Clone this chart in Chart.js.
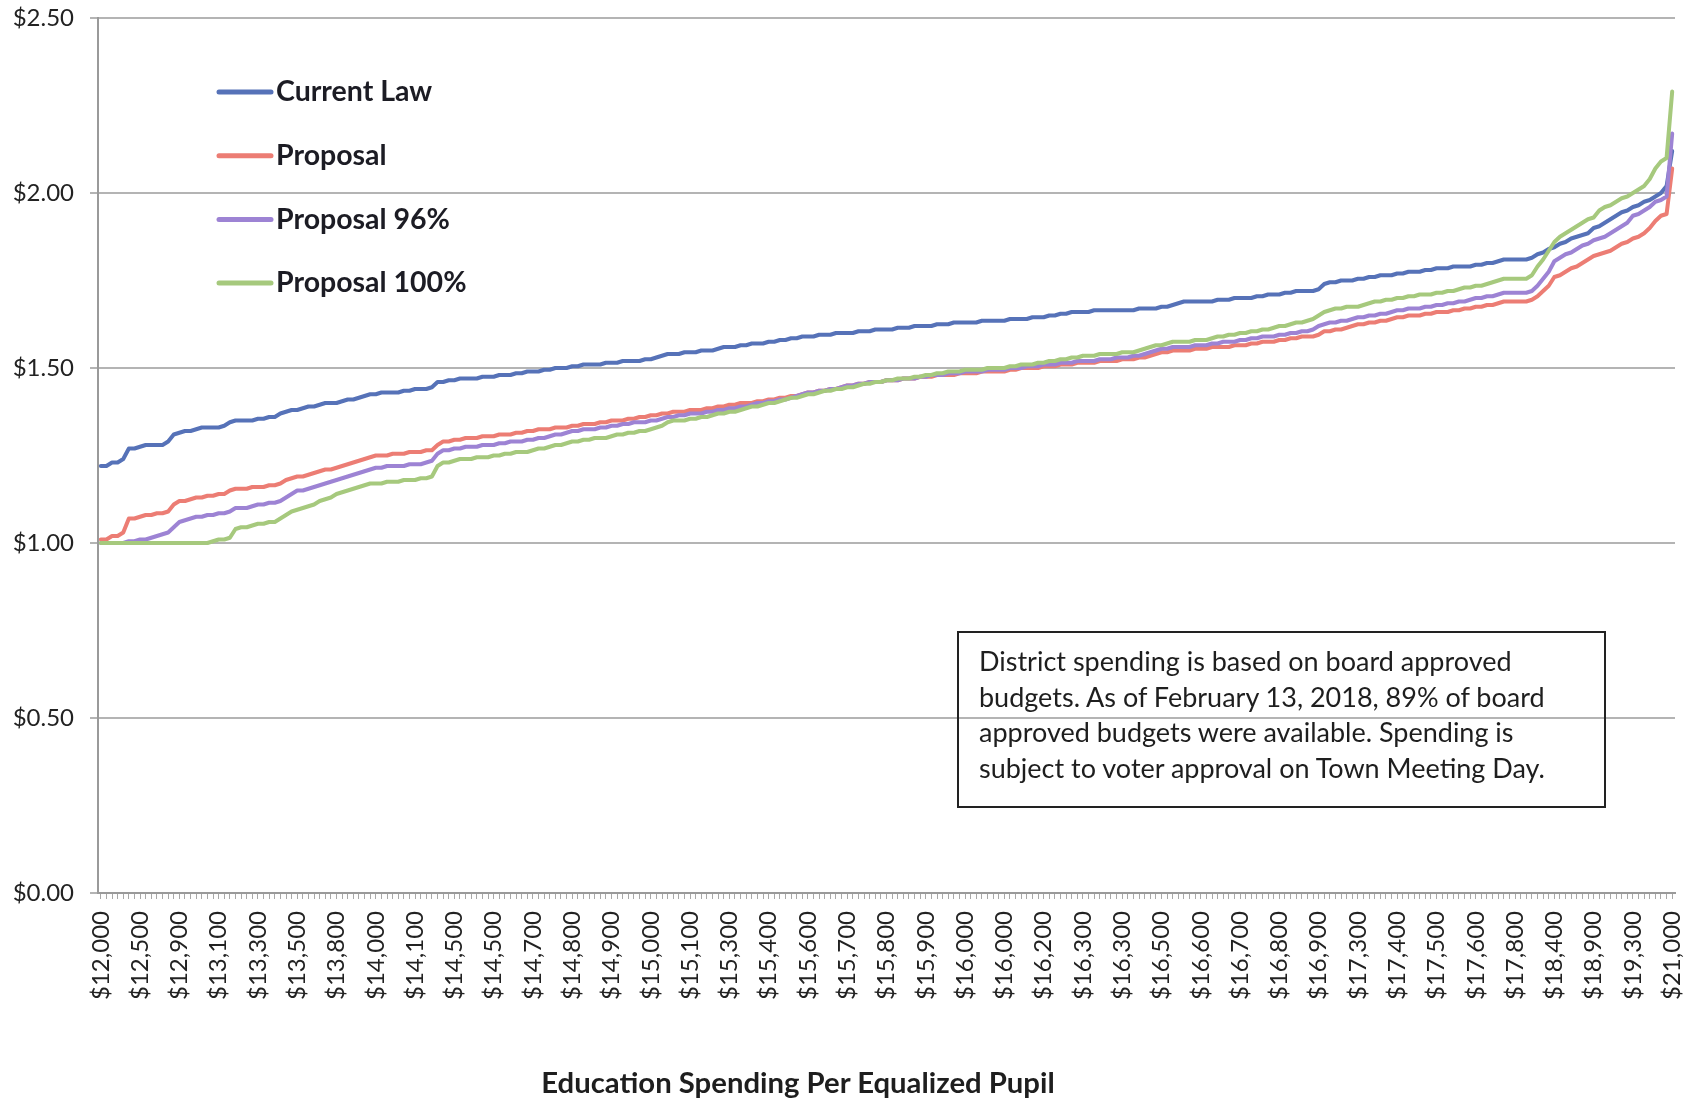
<!DOCTYPE html>
<html>
<head>
<meta charset="utf-8">
<style>
  body { margin: 0; background: #fff; }
  #wrap { position: relative; width: 1700px; height: 1103px; }
  #note {
    position: absolute;
    left: 957px; top: 631px;
    width: 649px; height: 177px;
    border: 2px solid #222;
    font-family: Lato, sans-serif;
    font-size: 27px;
    line-height: 35.5px;
    color: #1e1e1e;
    padding: 10px 0 0 20px;
    box-sizing: border-box;
  }
  #xtitle {
    position: absolute;
    left: 448px; width: 700px; top: 1064px;
    text-align: center;
    font-family: Lato, sans-serif;
    font-weight: bold;
    font-size: 29.3px;
    color: #1e1e1e;
  }
</style>
</head>
<body>
<div id="wrap">
  <canvas id="myChart" width="1700" height="1103"></canvas>
  <div id="note">District spending is based on board approved<br>budgets. As of February 13, 2018, 89% of board<br>approved budgets were available. Spending is<br>subject to voter approval on Town Meeting Day.</div>
  <div id="xtitle">Education Spending Per Equalized Pupil</div>
</div>

<script src="https://cdn.jsdelivr.net/npm/chart.js"></script>
<script>
  // one label every 7 districts
  const tickLabels = ['$12,000', '$12,500', '$12,900', '$13,100', '$13,300', '$13,500', '$13,800', '$14,000',
    '$14,100', '$14,500', '$14,500', '$14,700', '$14,800', '$14,900', '$15,000', '$15,100', '$15,300',
    '$15,400', '$15,600', '$15,700', '$15,800', '$15,900', '$16,000', '$16,000', '$16,200', '$16,300',
    '$16,300', '$16,500', '$16,600', '$16,700', '$16,800', '$16,900', '$17,300', '$17,400', '$17,500',
    '$17,600', '$17,800', '$18,400', '$18,900', '$19,300', '$21,000'];
  const labelEvery = 7;

  const seriesNames = ['Current Law', 'Proposal', 'Proposal 96%', 'Proposal 100%'];

  const currentLaw = [
    1.22, 1.22, 1.23, 1.23, 1.24, 1.27, 1.27,
    1.275, 1.28, 1.28, 1.28, 1.28, 1.29, 1.31,
    1.315, 1.32, 1.32, 1.325, 1.33, 1.33, 1.33,
    1.33, 1.335, 1.345, 1.35, 1.35, 1.35, 1.35,
    1.355, 1.355, 1.36, 1.36, 1.37, 1.375, 1.38,
    1.38, 1.385, 1.39, 1.39, 1.395, 1.40, 1.40,
    1.40, 1.405, 1.41, 1.41, 1.415, 1.42, 1.425,
    1.425, 1.43, 1.43, 1.43, 1.43, 1.435, 1.435,
    1.44, 1.44, 1.44, 1.445, 1.46, 1.46, 1.465,
    1.465, 1.47, 1.47, 1.47, 1.47, 1.475, 1.475,
    1.475, 1.48, 1.48, 1.48, 1.485, 1.485, 1.49,
    1.49, 1.49, 1.495, 1.495, 1.50, 1.50, 1.50,
    1.505, 1.505, 1.51, 1.51, 1.51, 1.51, 1.515,
    1.515, 1.515, 1.52, 1.52, 1.52, 1.52, 1.525,
    1.525, 1.53, 1.535, 1.54, 1.54, 1.54, 1.545,
    1.545, 1.545, 1.55, 1.55, 1.55, 1.555, 1.56,
    1.56, 1.56, 1.565, 1.565, 1.57, 1.57, 1.57,
    1.575, 1.575, 1.58, 1.58, 1.585, 1.585, 1.59,
    1.59, 1.59, 1.595, 1.595, 1.595, 1.60, 1.60,
    1.60, 1.60, 1.605, 1.605, 1.605, 1.61, 1.61,
    1.61, 1.61, 1.615, 1.615, 1.615, 1.62, 1.62,
    1.62, 1.62, 1.625, 1.625, 1.625, 1.63, 1.63,
    1.63, 1.63, 1.63, 1.635, 1.635, 1.635, 1.635,
    1.635, 1.64, 1.64, 1.64, 1.64, 1.645, 1.645,
    1.645, 1.65, 1.65, 1.655, 1.655, 1.66, 1.66,
    1.66, 1.66, 1.665, 1.665, 1.665, 1.665, 1.665,
    1.665, 1.665, 1.665, 1.67, 1.67, 1.67, 1.67,
    1.675, 1.675, 1.68, 1.685, 1.69, 1.69, 1.69,
    1.69, 1.69, 1.69, 1.695, 1.695, 1.695, 1.70,
    1.70, 1.70, 1.70, 1.705, 1.705, 1.71, 1.71,
    1.71, 1.715, 1.715, 1.72, 1.72, 1.72, 1.72,
    1.725, 1.74, 1.745, 1.745, 1.75, 1.75, 1.75,
    1.755, 1.755, 1.76, 1.76, 1.765, 1.765, 1.765,
    1.77, 1.77, 1.775, 1.775, 1.775, 1.78, 1.78,
    1.785, 1.785, 1.785, 1.79, 1.79, 1.79, 1.79,
    1.795, 1.795, 1.80, 1.80, 1.805, 1.81, 1.81,
    1.81, 1.81, 1.81, 1.815, 1.825, 1.83, 1.84,
    1.845, 1.855, 1.86, 1.87, 1.875, 1.88, 1.885,
    1.90, 1.905, 1.915, 1.925, 1.935, 1.945, 1.95,
    1.96, 1.965, 1.975, 1.98, 1.99, 2.00, 2.02,
    2.12
  ];

  const proposal = [
    1.01, 1.01, 1.02, 1.02, 1.03, 1.07, 1.07,
    1.075, 1.08, 1.08, 1.085, 1.085, 1.09, 1.11,
    1.12, 1.12, 1.125, 1.13, 1.13, 1.135, 1.135,
    1.14, 1.14, 1.15, 1.155, 1.155, 1.155, 1.16,
    1.16, 1.16, 1.165, 1.165, 1.17, 1.18, 1.185,
    1.19, 1.19, 1.195, 1.20, 1.205, 1.21, 1.21,
    1.215, 1.22, 1.225, 1.23, 1.235, 1.24, 1.245,
    1.25, 1.25, 1.25, 1.255, 1.255, 1.255, 1.26,
    1.26, 1.26, 1.265, 1.265, 1.28, 1.29, 1.29,
    1.295, 1.295, 1.30, 1.30, 1.30, 1.305, 1.305,
    1.305, 1.31, 1.31, 1.31, 1.315, 1.315, 1.32,
    1.32, 1.325, 1.325, 1.325, 1.33, 1.33, 1.33,
    1.335, 1.335, 1.34, 1.34, 1.34, 1.345, 1.345,
    1.35, 1.35, 1.35, 1.355, 1.355, 1.36, 1.36,
    1.365, 1.365, 1.37, 1.37, 1.375, 1.375, 1.375,
    1.38, 1.38, 1.38, 1.385, 1.385, 1.39, 1.39,
    1.395, 1.395, 1.40, 1.40, 1.40, 1.405, 1.405,
    1.41, 1.41, 1.415, 1.415, 1.42, 1.42, 1.425,
    1.43, 1.43, 1.435, 1.435, 1.44, 1.44, 1.445,
    1.45, 1.45, 1.455, 1.455, 1.46, 1.46, 1.46,
    1.465, 1.465, 1.465, 1.47, 1.47, 1.47, 1.475,
    1.475, 1.475, 1.48, 1.48, 1.48, 1.48, 1.485,
    1.485, 1.485, 1.485, 1.49, 1.49, 1.49, 1.49,
    1.49, 1.495, 1.495, 1.50, 1.50, 1.50, 1.50,
    1.505, 1.505, 1.505, 1.51, 1.51, 1.51, 1.515,
    1.515, 1.515, 1.515, 1.52, 1.52, 1.52, 1.52,
    1.525, 1.525, 1.525, 1.53, 1.53, 1.535, 1.54,
    1.545, 1.545, 1.55, 1.55, 1.55, 1.55, 1.555,
    1.555, 1.555, 1.56, 1.56, 1.56, 1.56, 1.565,
    1.565, 1.565, 1.57, 1.57, 1.575, 1.575, 1.575,
    1.58, 1.58, 1.585, 1.585, 1.59, 1.59, 1.59,
    1.595, 1.605, 1.605, 1.61, 1.61, 1.615, 1.62,
    1.625, 1.625, 1.63, 1.63, 1.635, 1.635, 1.64,
    1.645, 1.645, 1.65, 1.65, 1.65, 1.655, 1.655,
    1.66, 1.66, 1.66, 1.665, 1.665, 1.67, 1.67,
    1.675, 1.675, 1.68, 1.68, 1.685, 1.69, 1.69,
    1.69, 1.69, 1.69, 1.695, 1.705, 1.72, 1.735,
    1.76, 1.765, 1.775, 1.785, 1.79, 1.80, 1.81,
    1.82, 1.825, 1.83, 1.835, 1.845, 1.855, 1.86,
    1.87, 1.875, 1.885, 1.90, 1.92, 1.935, 1.94,
    2.07
  ];

  const proposal96 = [
    1.00, 1.00, 1.00, 1.00, 1.00, 1.005, 1.005,
    1.01, 1.01, 1.015, 1.02, 1.025, 1.03, 1.045,
    1.06, 1.065, 1.07, 1.075, 1.075, 1.08, 1.08,
    1.085, 1.085, 1.09, 1.10, 1.10, 1.10, 1.105,
    1.11, 1.11, 1.115, 1.115, 1.12, 1.13, 1.14,
    1.15, 1.15, 1.155, 1.16, 1.165, 1.17, 1.175,
    1.18, 1.185, 1.19, 1.195, 1.20, 1.205, 1.21,
    1.215, 1.215, 1.22, 1.22, 1.22, 1.22, 1.225,
    1.225, 1.225, 1.23, 1.235, 1.255, 1.265, 1.265,
    1.27, 1.27, 1.275, 1.275, 1.275, 1.28, 1.28,
    1.28, 1.285, 1.285, 1.29, 1.29, 1.29, 1.295,
    1.295, 1.30, 1.30, 1.305, 1.31, 1.31, 1.315,
    1.32, 1.32, 1.325, 1.325, 1.325, 1.33, 1.33,
    1.335, 1.335, 1.34, 1.34, 1.345, 1.345, 1.345,
    1.35, 1.35, 1.355, 1.36, 1.36, 1.365, 1.365,
    1.37, 1.37, 1.37, 1.375, 1.375, 1.38, 1.38,
    1.385, 1.385, 1.39, 1.39, 1.395, 1.40, 1.40,
    1.405, 1.405, 1.41, 1.41, 1.415, 1.42, 1.425,
    1.43, 1.43, 1.435, 1.435, 1.44, 1.44, 1.445,
    1.45, 1.45, 1.455, 1.455, 1.46, 1.46, 1.46,
    1.465, 1.465, 1.465, 1.47, 1.47, 1.47, 1.475,
    1.475, 1.48, 1.48, 1.48, 1.485, 1.485, 1.485,
    1.49, 1.49, 1.49, 1.49, 1.495, 1.495, 1.495,
    1.495, 1.50, 1.50, 1.50, 1.505, 1.505, 1.505,
    1.51, 1.51, 1.51, 1.515, 1.515, 1.515, 1.52,
    1.52, 1.52, 1.52, 1.525, 1.525, 1.525, 1.53,
    1.53, 1.53, 1.535, 1.535, 1.54, 1.545, 1.55,
    1.555, 1.555, 1.56, 1.56, 1.56, 1.56, 1.565,
    1.565, 1.565, 1.57, 1.57, 1.575, 1.575, 1.575,
    1.58, 1.58, 1.585, 1.585, 1.59, 1.59, 1.59,
    1.595, 1.595, 1.60, 1.60, 1.605, 1.605, 1.61,
    1.62, 1.625, 1.63, 1.63, 1.635, 1.635, 1.64,
    1.645, 1.645, 1.65, 1.65, 1.655, 1.655, 1.66,
    1.665, 1.665, 1.67, 1.67, 1.67, 1.675, 1.675,
    1.68, 1.68, 1.685, 1.685, 1.69, 1.69, 1.695,
    1.70, 1.70, 1.705, 1.705, 1.71, 1.715, 1.715,
    1.715, 1.715, 1.715, 1.72, 1.735, 1.755, 1.775,
    1.805, 1.815, 1.825, 1.83, 1.84, 1.85, 1.855,
    1.865, 1.87, 1.875, 1.885, 1.895, 1.905, 1.915,
    1.935, 1.94, 1.95, 1.96, 1.975, 1.98, 1.99,
    2.17
  ];

  const proposal100 = [
    1.00, 1.00, 1.00, 1.00, 1.00, 1.00, 1.00,
    1.00, 1.00, 1.00, 1.00, 1.00, 1.00, 1.00,
    1.00, 1.00, 1.00, 1.00, 1.00, 1.00, 1.005,
    1.01, 1.01, 1.015, 1.04, 1.045, 1.045, 1.05,
    1.055, 1.055, 1.06, 1.06, 1.07, 1.08, 1.09,
    1.095, 1.10, 1.105, 1.11, 1.12, 1.125, 1.13,
    1.14, 1.145, 1.15, 1.155, 1.16, 1.165, 1.17,
    1.17, 1.17, 1.175, 1.175, 1.175, 1.18, 1.18,
    1.18, 1.185, 1.185, 1.19, 1.22, 1.23, 1.23,
    1.235, 1.24, 1.24, 1.24, 1.245, 1.245, 1.245,
    1.25, 1.25, 1.255, 1.255, 1.26, 1.26, 1.26,
    1.265, 1.27, 1.27, 1.275, 1.28, 1.28, 1.285,
    1.29, 1.29, 1.295, 1.295, 1.30, 1.30, 1.30,
    1.305, 1.31, 1.31, 1.315, 1.315, 1.32, 1.32,
    1.325, 1.33, 1.335, 1.345, 1.35, 1.35, 1.35,
    1.355, 1.355, 1.36, 1.36, 1.365, 1.37, 1.37,
    1.375, 1.375, 1.38, 1.385, 1.39, 1.39, 1.395,
    1.40, 1.40, 1.405, 1.41, 1.415, 1.415, 1.42,
    1.425, 1.425, 1.43, 1.435, 1.435, 1.44, 1.44,
    1.445, 1.445, 1.45, 1.455, 1.455, 1.46, 1.46,
    1.465, 1.465, 1.47, 1.47, 1.47, 1.475, 1.475,
    1.48, 1.48, 1.485, 1.485, 1.49, 1.49, 1.49,
    1.495, 1.495, 1.495, 1.495, 1.50, 1.50, 1.50,
    1.50, 1.505, 1.505, 1.51, 1.51, 1.51, 1.515,
    1.515, 1.52, 1.52, 1.525, 1.525, 1.53, 1.53,
    1.535, 1.535, 1.535, 1.54, 1.54, 1.54, 1.54,
    1.545, 1.545, 1.545, 1.55, 1.555, 1.56, 1.565,
    1.565, 1.57, 1.575, 1.575, 1.575, 1.575, 1.58,
    1.58, 1.58, 1.585, 1.59, 1.59, 1.595, 1.595,
    1.60, 1.60, 1.605, 1.605, 1.61, 1.61, 1.615,
    1.62, 1.62, 1.625, 1.63, 1.63, 1.635, 1.64,
    1.65, 1.66, 1.665, 1.67, 1.67, 1.675, 1.675,
    1.675, 1.68, 1.685, 1.69, 1.69, 1.695, 1.695,
    1.70, 1.70, 1.705, 1.705, 1.71, 1.71, 1.71,
    1.715, 1.715, 1.72, 1.72, 1.725, 1.73, 1.73,
    1.735, 1.735, 1.74, 1.745, 1.75, 1.755, 1.755,
    1.755, 1.755, 1.755, 1.765, 1.79, 1.81, 1.835,
    1.86, 1.875, 1.885, 1.895, 1.905, 1.915, 1.925,
    1.93, 1.95, 1.96, 1.965, 1.975, 1.985, 1.99,
    2.00, 2.01, 2.02, 2.04, 2.07, 2.09, 2.10,
    2.29
  ];

  const colors = ['#5672b8', '#ec7d74', '#9d83d4', '#a6c97d'];

  const categories = currentLaw.map(function (v, i) {
    return i % labelEvery === 0 ? tickLabels[i / labelEvery] : '';
  });

  // legend drawn inside the plot, stacked like the original
  const insideLegend = {
    id: 'insideLegend',
    afterDraw(chart) {
      const ctx = chart.ctx;
      ctx.save();
      ctx.font = 'bold 28.5px Lato, sans-serif';
      ctx.textBaseline = 'middle';
      seriesNames.forEach(function (name, i) {
        const y = 92 + i * 63.7;
        ctx.strokeStyle = colors[i];
        ctx.lineWidth = 5;
        ctx.lineCap = 'round';
        ctx.beginPath();
        ctx.moveTo(219, y);
        ctx.lineTo(271, y);
        ctx.stroke();
        ctx.fillStyle = '#1c1c24';
        ctx.fillText(name, 276, y);
      });
      ctx.restore();
    }
  };

  const ctx = document.getElementById('myChart');
  new Chart(ctx, {
    type: 'line',
    data: {
      labels: categories,
      datasets: [
        { label: seriesNames[0], data: currentLaw, borderColor: colors[0], order: 4 },
        { label: seriesNames[1], data: proposal, borderColor: colors[1], order: 3 },
        { label: seriesNames[2], data: proposal96, borderColor: colors[2], order: 2 },
        { label: seriesNames[3], data: proposal100, borderColor: colors[3], order: 1 }
      ]
    },
    options: {
      responsive: false,
      animation: false,
      devicePixelRatio: 1,
      layout: { padding: { left: 0, right: 25, top: 18, bottom: 0 } },
      elements: {
        line: { borderWidth: 4, tension: 0, borderCapStyle: 'round', borderJoinStyle: 'round' },
        point: { radius: 0 }
      },
      plugins: {
        legend: { display: false },
        tooltip: { enabled: false }
      },
      scales: {
        x: {
          type: 'category',
          offset: true,
          afterFit: function (scale) {
            scale.height = 210;
            scale.paddingLeft = 0;
            scale.paddingRight = 0;
          },
          grid: {
            drawOnChartArea: false,
            drawTicks: true,
            tickLength: 6,
            color: '#a8a8a8',
            lineWidth: 1
          },
          border: { display: true, color: '#9a9a9a', width: 2 },
          ticks: {
            autoSkip: false,
            maxRotation: 90,
            minRotation: 90,
            padding: 12,
            color: '#222',
            font: { family: 'Lato', size: 24 }
          }
        },
        y: {
          min: 0,
          max: 2.5,
          afterFit: function (scale) {
            scale.width = 98;
            scale.paddingTop = 0;
            scale.paddingBottom = 0;
          },
          grid: {
            color: '#b4b4b4',
            lineWidth: 2,
            drawTicks: true,
            tickLength: 8
          },
          border: { display: true, color: '#9a9a9a', width: 2 },
          ticks: {
            stepSize: 0.5,
            padding: 16,
            color: '#222',
            font: { family: 'Lato', size: 24 },
            callback: function (v) { return '$' + v.toFixed(2); }
          }
        }
      }
    },
    plugins: [insideLegend]
  });
</script>
</body>
</html>
